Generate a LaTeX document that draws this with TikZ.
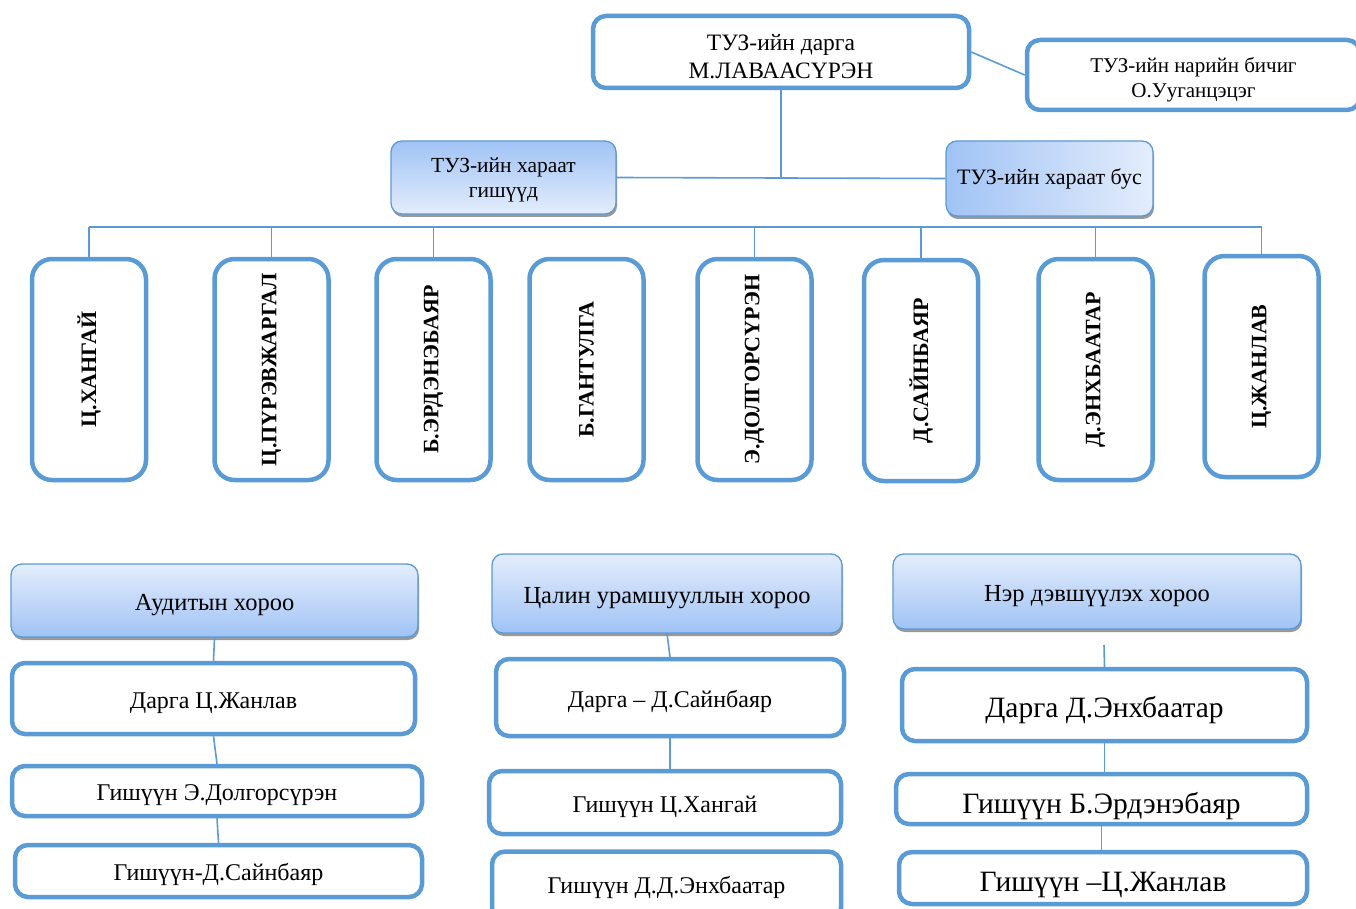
\documentclass[tikz,border=0pt]{standalone}
\usepackage{fontspec}
\setmainfont{Liberation Serif}
\usetikzlibrary{shadows}
\definecolor{bl}{RGB}{91,155,213}
\definecolor{gd}{RGB}{160,195,245}
\definecolor{gl}{RGB}{228,237,252}
\newcommand{\hstrut}[1]{\rule{0pt}{#1}}
\tikzset{
  lower/.style={execute at begin node={\rule[-0.24em]{0pt}{#1}}},
  nolower/.style={execute at begin node={}},
  tbox/.style={draw=bl, line width=4.5pt, rounded corners=13pt, fill=white, align=center, inner sep=0pt, font=\fontsize{24}{28}\selectfont, lower=1.3em},
  vbox/.style={draw=bl, line width=4.5pt, rounded corners=20pt, fill=white, rotate=90, minimum width=221pt, minimum height=114pt, inner sep=0pt, font=\bfseries\fontsize{22}{26}\selectfont},
  gbox/.style={draw=bl, line width=1.3pt, rounded corners=11pt, align=center, inner sep=0pt, font=\fontsize{24.5}{28}\selectfont, lower=1.3em, drop shadow={shadow xshift=1pt, shadow yshift=-3pt, fill=black!40, opacity=1}},
  conn/.style={draw=bl, line width=1.6pt},
}
\begin{document}
\begin{tikzpicture}[x=1pt,y=-1pt]
\useasboundingbox (0,0) rectangle (1356,909);
% top
\node[tbox, nolower, minimum width=376pt, minimum height=72pt, font=\fontsize{23.5}{27.5}\selectfont] (top) at (781,52) {\hstrut{31pt}ТУЗ-ийн дарга\\М.ЛАВААСҮРЭН};
\node[tbox, nolower, minimum width=333pt, minimum height=70pt, font=\fontsize{21}{24.5}\selectfont] (sec) at (1193.5,75) {\hstrut{25pt}ТУЗ-ийн нарийн бичиг\\О.Ууганцэцэг};
\node[gbox, nolower, top color=gd, bottom color=gl, minimum width=225pt, minimum height=73pt, font=\fontsize{21.5}{25}\selectfont] (h1) at (503.5,177.5) {\hstrut{20pt}ТУЗ-ийн хараат\\гишүүд};
\node[gbox, left color=gd, right color=gl, minimum width=207pt, minimum height=75pt, font=\fontsize{22}{26}\selectfont, execute at begin node={\rule[-0.5em]{0pt}{1.1em}}] (h2) at (1049.5,178.5) {ТУЗ-ийн хараат бус};
\draw[conn] (top.east) -- (sec.west);
\draw[conn] (top.south) -- (top.south |- h1.east);
\draw[conn] (h1.east) -- (h2.west);
% vertical boxes
\node[vbox] (v1) at (89,369.5) {Ц.ХАНГАЙ};
\node[vbox] (v2) at (271.5,369.5) {Ц.ПҮРЭВЖАРГАЛ};
\node[vbox] (v3) at (433.5,369.5) {Б.ЭРДЭНЭБАЯР};
\node[vbox] (v4) at (586.5,369.5) {Б.ГАНТУЛГА};
\node[vbox] (v5) at (754.5,369.5) {Э.ДОЛГОРСҮРЭН};
\node[vbox] (v6) at (921,370.5) {Д.САЙНБАЯР};
\node[vbox] (v7) at (1095.5,369.5) {Д.ЭНХБААТАР};
\node[vbox] (v8) at (1261.5,366.5) {Ц.ЖАНЛАВ};
\coordinate (busL) at (89,227);
\coordinate (busR) at (1262,227);
\draw[conn] (busL) -- (busR);
\foreach \v in {v1,v2,v3,v5,v6,v7,v8}{\draw[conn] (\v.east) -- (\v.east |- busL);}
% bottom left column
\node[gbox, top color=gl, bottom color=gd, minimum width=407pt, minimum height=73pt] (a0) at (214.5,600.5) {Аудитын хороо};
\node[tbox, minimum width=403pt, minimum height=71pt] (a1) at (213.5,698.5) {Дарга Ц.Жанлав};
\node[tbox, minimum width=410pt, minimum height=50pt] (a2) at (217,791) {Гишүүн Э.Долгорсүрэн};
\node[tbox, minimum width=407pt, minimum height=52pt, lower=1.1em] (a3) at (218.5,871) {Гишүүн-Д.Сайнбаяр};
\draw[conn] (a0.south) -- (a1.north);
\draw[conn] (a1.south) -- (a2.north);
\draw[conn] (a2.south) -- (a3.north);
% middle column
\node[gbox, top color=gl, bottom color=gd, minimum width=350pt, minimum height=79pt] (m0) at (667,593.5) {Цалин урамшууллын хороо};
\node[tbox, minimum width=348pt, minimum height=77pt, lower=1.1em] (m1) at (670,697.5) {Дарга – Д.Сайнбаяр};
\node[tbox, minimum width=352pt, minimum height=63pt, lower=1.1em] (m2) at (665,802.5) {Гишүүн Ц.Хангай};
\node[tbox, minimum width=349pt, minimum height=69pt, execute at begin node={\rule[-0.45em]{0pt}{0.9em}}] (m3) at (666.5,886) {Гишүүн Д.Д.Энхбаатар};
\draw[conn] (m0.south) -- (m1.north);
\draw[conn] (m1.south) -- (m1.south |- m2.north);
% right column
\node[gbox, top color=gl, bottom color=gd, minimum width=408pt, minimum height=75pt] (r0) at (1097,591.5) {Нэр дэвшүүлэх хороо};
\node[tbox, minimum width=405pt, minimum height=72pt, font=\fontsize{29.5}{34}\selectfont] (r1) at (1104.5,705) {Дарга Д.Энхбаатар};
\node[tbox, minimum width=411pt, minimum height=50pt, font=\fontsize{29.5}{34}\selectfont, lower=1.45em] (r2) at (1101.5,799) {Гишүүн Б.Эрдэнэбаяр};
\node[tbox, minimum width=408pt, minimum height=52pt, font=\fontsize{29.5}{34}\selectfont, lower=1.4em] (r3) at (1103,878) {Гишүүн –Ц.Жанлав};
\coordinate (r0s) at (1104,645);
\draw[conn] (r0s) -- (r1.north);
\draw[conn] (r1.south) -- (r1.south |- r2.north);
\draw[conn] (r2.south) -- (r2.south |- r3.north);
\end{tikzpicture}
\end{document}
